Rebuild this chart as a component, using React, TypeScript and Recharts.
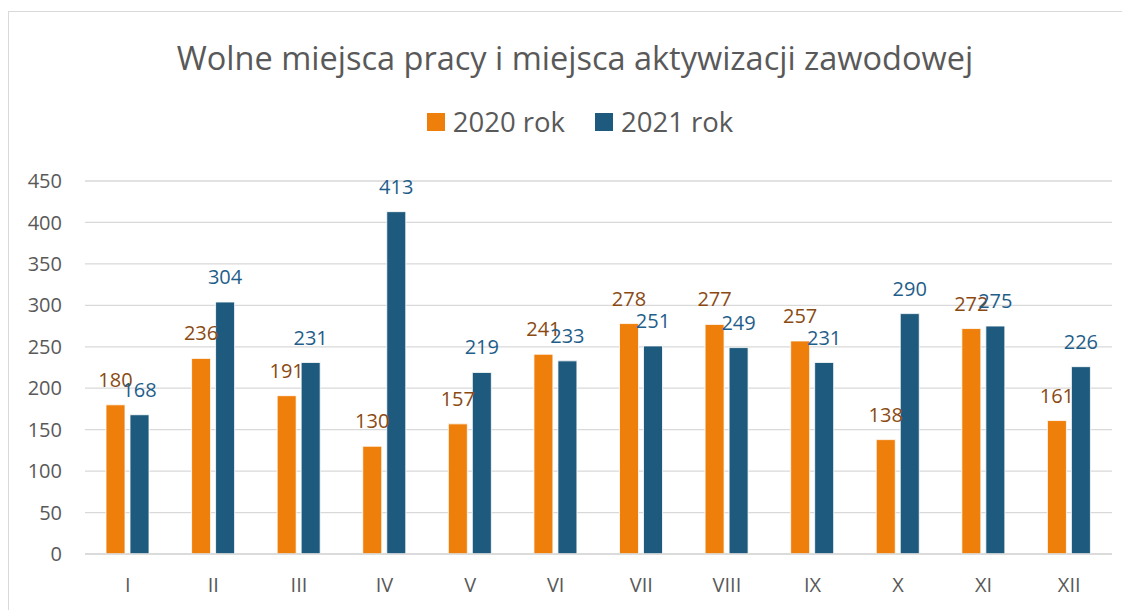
import React from "react";
import { BarChart, Bar, XAxis, YAxis, CartesianGrid, LabelList } from "recharts";

const months = ["I", "II", "III", "IV", "V", "VI", "VII", "VIII", "IX", "X", "XI", "XII"];
const values2020 = [180, 236, 191, 130, 157, 241, 278, 277, 257, 138, 272, 161];
const values2021 = [168, 304, 231, 413, 219, 233, 251, 249, 231, 290, 275, 226];
const yTicks = [0, 50, 100, 150, 200, 250, 300, 350, 400, 450];
const seriesNames = ["2020 rok", "2021 rok"];
const title = "Wolne miejsca pracy i miejsca aktywizacji zawodowej";

const ORANGE = "#EF7F0B";
const BLUE = "#1E5A7D";
const ORANGE_LABEL = "#8A4A12";
const BLUE_LABEL = "#1F5E8A";
const TEXT = "#595959";
const FONT = "'Open Sans', 'Noto Sans', sans-serif";

const data = months.map((m, i) => ({ month: m, a: values2020[i], b: values2021[i] }));

export default function App() {
  return (
    <div style={{ position: "relative", width: 1122, height: 602 }}>
      <style>{"html,body{overflow:hidden}"}</style>
      <div style={{ position: "absolute", left: 0, top: 3, width: 1300, height: 800, border: "1px solid #D9D9D9", boxSizing: "border-box" }} />
      <div style={{ position: "absolute", left: 0, top: 27, width: 1134, textAlign: "center", fontFamily: FONT, fontSize: 32.5, color: TEXT, whiteSpace: "nowrap" }}>
        {title}
      </div>
      <div style={{ position: "absolute", left: 0, top: 95, width: 1144, display: "flex", justifyContent: "center", alignItems: "center", fontFamily: FONT, fontSize: 27.5, color: TEXT }}>
        {[ORANGE, BLUE].map((c, i) => (
          <div key={i} style={{ display: "flex", alignItems: "center", marginLeft: i ? 30 : 0 }}>
            <div style={{ width: 18, height: 18, background: c, marginRight: 8 }} />
            <span>{seriesNames[i]}</span>
          </div>
        ))}
      </div>
      <div style={{ position: "absolute", left: 0, top: 0 }}>
        <BarChart
          width={1122}
          height={602}
          data={data}
          margin={{ top: 173, right: 18, bottom: 0, left: 0 }}
          barCategoryGap={21}
          barGap={5}
        >
          <CartesianGrid vertical={false} stroke="#D9D9D9" strokeWidth={1.3} />
          <XAxis
            dataKey="month"
            height={56}
            axisLine={{ stroke: "#D9D9D9", strokeWidth: 1.5 }}
            tickLine={false}
            tickSize={6}
            tickMargin={18}
            tick={{ fill: TEXT, fontSize: 20, fontFamily: FONT }}
          />
          <YAxis
            width={77}
            domain={[0, 450]}
            ticks={yTicks}
            axisLine={false}
            tickLine={false}
            tickSize={6}
            tickMargin={17}
            tick={{ fill: TEXT, fontSize: 20, fontFamily: FONT }}
          />
          <Bar dataKey="a" name={seriesNames[0]} fill={ORANGE} stroke="#FFFFFF" strokeWidth={0.8} isAnimationActive={false}>
            <LabelList dataKey="a" position="top" offset={18} fill={ORANGE_LABEL} fontSize={20} fontFamily={FONT} />
          </Bar>
          <Bar dataKey="b" name={seriesNames[1]} fill={BLUE} stroke="#FFFFFF" strokeWidth={0.8} isAnimationActive={false}>
            <LabelList dataKey="b" position="top" offset={18} fill={BLUE_LABEL} fontSize={20} fontFamily={FONT} />
          </Bar>
        </BarChart>
      </div>
    </div>
  );
}
